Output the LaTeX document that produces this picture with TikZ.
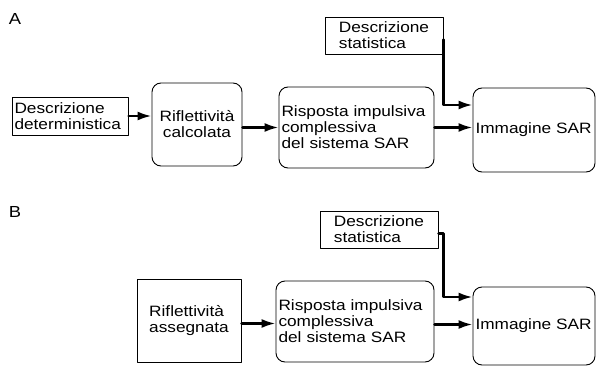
\documentclass[tikz,border=0pt]{standalone}
\usepackage{fontspec}
\setmainfont{Liberation Sans}[FakeStretch=1.15]
\usepackage{tikz}
\usetikzlibrary{arrows.meta,calc,positioning}
\tikzset{
  every picture/.append style={line cap=round,line join=round},
  sar text/.style={font=\fontsize{15}{16}\selectfont},
  sar box/.style={sar text,draw,line width=0.9pt,inner sep=2.5pt},
  sar rbox/.style={sar box,rounded corners=9pt},
  sar flow/.style={line width=2.4pt,-{Latex[length=14pt,width=9pt]}},
  sar panel/.style={font=\fontsize{16}{16}\selectfont}
}
\begin{document}
\begin{tikzpicture}[x=1pt, y=-1pt]
  \useasboundingbox (0,0) rectangle (596,366);
  % A
  \node[sar panel] (labA) at (15,19) {A};
  \node[sar box, minimum width=116pt, minimum height=38pt, text width=111pt, align=left] (detA) at (70,116) {Descrizione\\deterministica};
  \node[sar rbox, minimum width=90pt, minimum height=83pt, align=center] (riflA) at (197,124.5) {Riflettività\\calcolata};
  \node[sar rbox, minimum width=155pt, minimum height=81pt, text width=150pt, align=left] (rispA) at (356.5,127.5) {Risposta impulsiva\\complessiva\\del sistema SAR};
  \node[sar rbox, minimum width=122pt, minimum height=84pt, text width=117pt, align=left] (immA) at (534,130) {Immagine SAR};
  \node[sar box, minimum width=118pt, minimum height=37pt, align=left] (statA) at (384,35.5) {Descrizione\\statistica};
  \draw[sar flow] (detA.east) -- (detA.east -| riflA.west);
  \draw[sar flow] (rispA.west -| riflA.east) -- (rispA.west);
  \draw[sar flow] (rispA.east) -- (rispA.east -| immA.west);
  \draw[sar flow] ([yshift=-4pt]statA.east) |- ([yshift=25pt]immA.west);
  % B
  \node[sar panel] (labB) at (15,212) {B};
  \node[sar box, minimum width=104pt, minimum height=83pt, align=left] (riflB) at (189,320.5) {Riflettività\\assegnata};
  \node[sar rbox, minimum width=158pt, minimum height=81pt, text width=153pt, align=left] (rispB) at (355,321.5) {Risposta impulsiva\\complessiva\\del sistema SAR};
  \node[sar rbox, minimum width=122pt, minimum height=78pt, text width=117pt, align=left] (immB) at (534,326) {Immagine SAR};
  \node[sar box, minimum width=118pt, minimum height=37pt, align=left] (statB) at (379,229.5) {Descrizione\\statistica};
  \draw[sar flow] ([yshift=-3pt]riflB.east) -- ([yshift=-3pt]riflB.east -| rispB.west);
  \draw[sar flow] ([yshift=-3pt]rispB.east) -- ([yshift=-3pt]rispB.east -| immB.west);
  \draw[sar flow] ([yshift=-4pt]statB.east) -- ++(5,0) |- ([yshift=29pt]immB.west);
\end{tikzpicture}
\end{document}
